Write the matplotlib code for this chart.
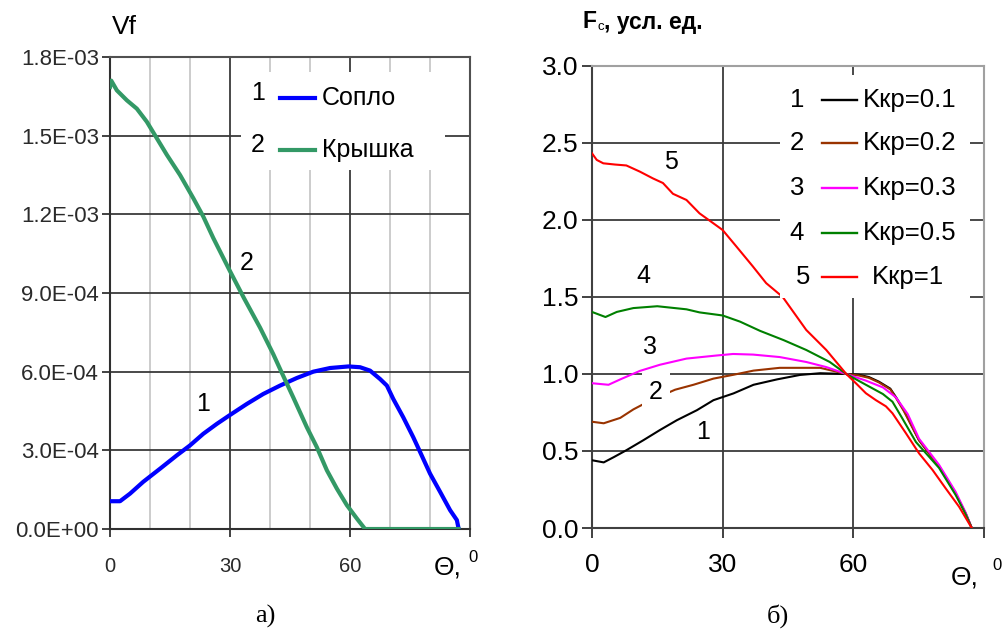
import matplotlib
matplotlib.use("Agg")
import matplotlib.pyplot as plt
from matplotlib.patches import Rectangle

plt.rcParams['font.family'] = ['Liberation Sans', 'DejaVu Sans']

# а) объём Vf для сопла и крышки
theta_soplo = [0, 2.5, 5, 8.3, 12.5, 16.7, 20, 23.3, 26.7, 30, 34.2, 38.3, 42.5, 46.7,
               50.8, 55, 59.6, 62.5, 65, 67.5, 69.2, 70.8, 73.3, 75.8, 77.5, 80, 82.5,
               85, 86.7, 87.1]
vf_soplo = [1.06e-4, 1.06e-4, 1.35e-4, 1.80e-4, 2.30e-4, 2.81e-4, 3.19e-4, 3.63e-4,
            4.01e-4, 4.35e-4, 4.77e-4, 5.15e-4, 5.47e-4, 5.76e-4, 6.00e-4, 6.14e-4,
            6.20e-4, 6.17e-4, 6.04e-4, 5.72e-4, 5.47e-4, 4.96e-4, 4.26e-4, 3.50e-4,
            2.94e-4, 2.11e-4, 1.42e-4, 7.2e-5, 3.4e-5, 4e-6]

theta_kryshka = [0, 0.3, 1.7, 4.2, 6.7, 9.2, 11.7, 14.2, 17.5, 20.8, 23.3, 25.8, 30,
                 33.5, 37.5, 40.8, 42.9, 45.8, 49.2, 51.7, 54.2, 56.7, 59.2, 61.7,
                 63.75, 70, 80, 87.1]
vf_kryshka = [1.686e-3, 1.71e-3, 1.673e-3, 1.635e-3, 1.603e-3, 1.553e-3, 1.49e-3,
              1.427e-3, 1.35e-3, 1.262e-3, 1.192e-3, 1.11e-3, 9.83e-4, 8.8e-4, 7.68e-4,
              6.67e-4, 5.97e-4, 5.02e-4, 3.88e-4, 3.12e-4, 2.24e-4, 1.54e-4, 9.1e-5,
              4.0e-5, 0, 0, 0, 0]

vf_ticks = [0, 3e-4, 6e-4, 9e-4, 1.2e-3, 1.5e-3, 1.8e-3]
vf_ticklabels = ['0.0E+00', '3.0E-04', '6.0E-04', '9.0E-04', '1.2E-03', '1.5E-03', '1.8E-03']

# б) Fc при разных Kкр
theta_01 = [0, 2.7, 5, 7.9, 11.8, 15.6, 19.5, 24.1, 27.9, 32.5, 37.1, 42.5, 47.8, 52.4,
            58.4, 61.3, 63.6, 65.9, 68.5, 69.8, 71.6, 75.1, 79.7, 83.5, 85.8, 87.2]
fc_01 = [0.44, 0.426, 0.46, 0.505, 0.57, 0.636, 0.70, 0.765, 0.83, 0.874, 0.93, 0.965,
         0.994, 1.005, 1.0, 0.995, 0.98, 0.95, 0.905, 0.85, 0.766, 0.57, 0.40, 0.225,
         0.095, 0.0]

theta_02 = [0, 2.7, 6.5, 9.5, 12.2, 15.6, 19.1, 23.3, 27.9, 32.5, 37.1, 43.1, 52.4,
            58.4, 61.3, 63.6, 65.9, 68.5, 69.8, 71.6, 75.1, 79.7, 83.5, 85.8, 87.2]
fc_02 = [0.69, 0.68, 0.715, 0.77, 0.81, 0.855, 0.898, 0.93, 0.97, 0.995, 1.022, 1.04,
         1.04, 1.0, 0.99, 0.975, 0.945, 0.90, 0.845, 0.76, 0.57, 0.40, 0.225, 0.095,
         0.0]

theta_03 = [0, 3.8, 6.5, 11, 15.6, 21.7, 28.6, 32.4, 37, 43.1, 49.2, 53.8, 58.4, 62.9,
            66.8, 69.8, 72.5, 75.1, 79.7, 83.5, 85.8, 87.2]
fc_03 = [0.94, 0.93, 0.965, 1.02, 1.06, 1.10, 1.12, 1.13, 1.126, 1.11, 1.078, 1.045,
         1.0, 0.957, 0.913, 0.848, 0.74, 0.58, 0.41, 0.235, 0.10, 0.0]

theta_05 = [0, 3.1, 5.7, 9.5, 15, 21.7, 24.7, 30, 34, 38.6, 44, 49.2, 54.6, 58.4, 62.9,
            66.8, 69, 71.3, 74.4, 79.7, 83.5, 85.8, 87.2]
fc_05 = [1.403, 1.37, 1.403, 1.428, 1.44, 1.42, 1.40, 1.38, 1.34, 1.28, 1.22, 1.156,
         1.078, 1.0, 0.93, 0.87, 0.82, 0.71, 0.558, 0.39, 0.215, 0.09, 0.0]

theta_1 = [0, 1.1, 2.6, 5.3, 7.9, 11, 14, 16.3, 18.6, 21.7, 24.7, 27.8, 30, 33.1, 36.9,
           40, 43.8, 49.2, 53.8, 58.4, 60.6, 62.9, 65.2, 67.5, 69, 72.1, 75.1, 78.2,
           81.2, 84.3, 87.2]
fc_1 = [2.433, 2.39, 2.368, 2.36, 2.354, 2.314, 2.27, 2.24, 2.17, 2.13, 2.043, 1.98,
        1.935, 1.83, 1.70, 1.59, 1.50, 1.286, 1.156, 1.0, 0.94, 0.875, 0.83, 0.79,
        0.745, 0.615, 0.485, 0.377, 0.258, 0.138, 0.0]

fc_thetas = [theta_01, theta_02, theta_03, theta_05, theta_1]
fc_series = [fc_01, fc_02, fc_03, fc_05, fc_1]
fc_colors = ['#000000', '#993300', '#FF00FF', '#008000', '#FF0000']
fc_names = ['Kкр=0.1', 'Kкр=0.2', 'Kкр=0.3', 'Kкр=0.5', 'Kкр=1']
fc_ticks = [0, 0.5, 1.0, 1.5, 2.0, 2.5, 3.0]

fig = plt.figure(figsize=(10.04, 6.35), dpi=100)

# ---------- а) ----------
ax1 = fig.add_axes([0.1096, 0.1669, 0.3586, 0.7433])
ax1.set_xlim(0, 90)
ax1.set_ylim(0, 1.8e-3)
for xm in [10, 20, 40, 50, 70, 80]:
    ax1.axvline(xm, color='#C8C8C8', lw=1.3, zorder=0)
for xm in [30, 60]:
    ax1.axvline(xm, color='#3A3A3A', lw=1.3, zorder=0)
for ym in vf_ticks[1:-1]:
    ax1.axhline(ym, color='#3A3A3A', lw=1.3, zorder=0)

ax1.plot(theta_soplo, vf_soplo, color='#0000FF', lw=3, zorder=3)
ax1.plot(theta_kryshka, vf_kryshka, color='#339966', lw=3, zorder=3)

ax1.set_yticks(vf_ticks)
ax1.set_yticklabels(vf_ticklabels, fontsize=16, color='#2A2A2A')
ax1.set_xticks([0, 30, 60, 90])
ax1.set_xticklabels(['0', '30', '60', ''], fontsize=14.5, color='#2A2A2A')
ax1.tick_params(axis='y', length=6, width=1.3, color='#333333', pad=2)
ax1.tick_params(axis='x', length=6, width=1.3, color='#333333', pad=14)
for side in ['left', 'bottom']:
    ax1.spines[side].set_color('#303030')
    ax1.spines[side].set_linewidth(1.5)
for side in ['top', 'right']:
    ax1.spines[side].set_color('#505050')
    ax1.spines[side].set_linewidth(1.5)

# легенда
ax1.add_patch(Rectangle((0.364, 0.761), 0.567, 0.207, transform=ax1.transAxes,
                        facecolor='white', edgecolor='none', zorder=4))
leg1 = [('1', '#0000FF', 'Сопло', 0.913), ('2', '#339966', 'Крышка', 0.803)]
for num, col, name, yy in leg1:
    ax1.text(0.411, yy + 0.01, num, transform=ax1.transAxes, fontsize=18,
             ha='center', va='center', zorder=5)
    ax1.plot([0.472, 0.569], [yy, yy], transform=ax1.transAxes, color=col, lw=3,
             zorder=5)
    ax1.text(0.589, yy, name, transform=ax1.transAxes, fontsize=18,
             ha='left', va='center', zorder=5)

ax1.text(34.25, 1.014e-3, '2', fontsize=18, ha='center', va='center', zorder=5)
ax1.text(23.25, 4.78e-4, '1', fontsize=18, ha='center', va='center', zorder=5)

fig.text(112 / 1004, 1 - 27 / 635, 'Vf', fontsize=19, ha='left', va='center')
fig.text(434 / 1004, 1 - 568 / 635, 'Θ,', fontsize=19, ha='left', va='center')
fig.text(468 / 1004, 1 - 558 / 635, '0', fontsize=12, ha='left', va='center')
fig.text(265 / 1004, 1 - 616 / 635, 'а)', fontsize=19, ha='center', va='center',
         family=['Liberation Serif', 'DejaVu Serif'])

# ---------- б) ----------
ax2 = fig.add_axes([0.5896, 0.1685, 0.3904, 0.7276])
ax2.set_xlim(0, 90)
ax2.set_ylim(0, 3.0)
for xm in [30, 60]:
    ax2.axvline(xm, color='#3A3A3A', lw=1.3, zorder=0)
for ym in fc_ticks[1:-1]:
    ax2.axhline(ym, color='#3A3A3A', lw=1.3, zorder=0)

for xs, ys, col in zip(fc_thetas, fc_series, fc_colors):
    ax2.plot(xs, ys, color=col, lw=1.5, zorder=3)

ax2.set_yticks(fc_ticks)
ax2.set_yticklabels(['%.1f' % v for v in fc_ticks], fontsize=19)
ax2.set_xticks([0, 30, 60, 90])
ax2.set_xticklabels(['0', '30', '60', ''], fontsize=19)
ax2.tick_params(axis='y', length=7, width=1.3, color='#333333', pad=3)
ax2.tick_params(axis='x', length=7, width=1.3, color='#333333', pad=11)
for side in ['left', 'bottom']:
    ax2.spines[side].set_color('#404040')
    ax2.spines[side].set_linewidth(1.5)
for side in ['top', 'right']:
    ax2.spines[side].set_color('#A0A0A0')
    ax2.spines[side].set_linewidth(1.5)

ax2.add_patch(Rectangle((0.48, 0.498), 0.484, 0.482, transform=ax2.transAxes,
                        facecolor='white', edgecolor='none', zorder=4))
leg_y = [0.926, 0.833, 0.736, 0.639, 0.543]
for i, (col, name, yy) in enumerate(zip(fc_colors, fc_names, leg_y)):
    nx = 0.538 if i == 4 else 0.523
    lx = 0.714 if i == 4 else 0.691
    ax2.text(nx, yy, str(i + 1), transform=ax2.transAxes, fontsize=18.5,
             ha='center', va='center', zorder=5)
    ax2.plot([0.587, 0.676], [yy, yy], transform=ax2.transAxes, color=col, lw=1.7,
             zorder=5)
    ax2.text(lx, yy, name, transform=ax2.transAxes, fontsize=18.5,
             ha='left', va='center', zorder=5)

curve_labels = [('5', 18.1, 2.377), ('4', 11.9, 1.636), ('3', 13.3, 1.175),
                ('2', 14.7, 0.883), ('1', 25.4, 0.623)]
for txt, xx, yy in curve_labels:
    bb = dict(facecolor='white', edgecolor='none', pad=5) if txt == '2' else None
    ax2.text(xx, yy, txt, fontsize=18, ha='center', va='center', zorder=5, bbox=bb)

fig.text(582 / 1004, 1 - 22 / 635, 'F', fontsize=16.5, ha='left', va='center',
         weight='bold')
fig.text(597 / 1004, 1 - 27 / 635, 'c', fontsize=9.5, ha='left', va='center')
fig.text(604 / 1004, 1 - 22 / 635, ', усл. ед.', fontsize=16.5, ha='left',
         va='center', weight='bold')
fig.text(951 / 1004, 1 - 578 / 635, 'Θ,', fontsize=19, ha='left', va='center')
fig.text(992 / 1004, 1 - 566 / 635, '0', fontsize=12, ha='left', va='center')
fig.text(778 / 1004, 1 - 616 / 635, 'б)', fontsize=19, ha='center', va='center',
         family=['Liberation Serif', 'DejaVu Serif'])

fig.savefig('out.png', dpi=100, facecolor='white')
